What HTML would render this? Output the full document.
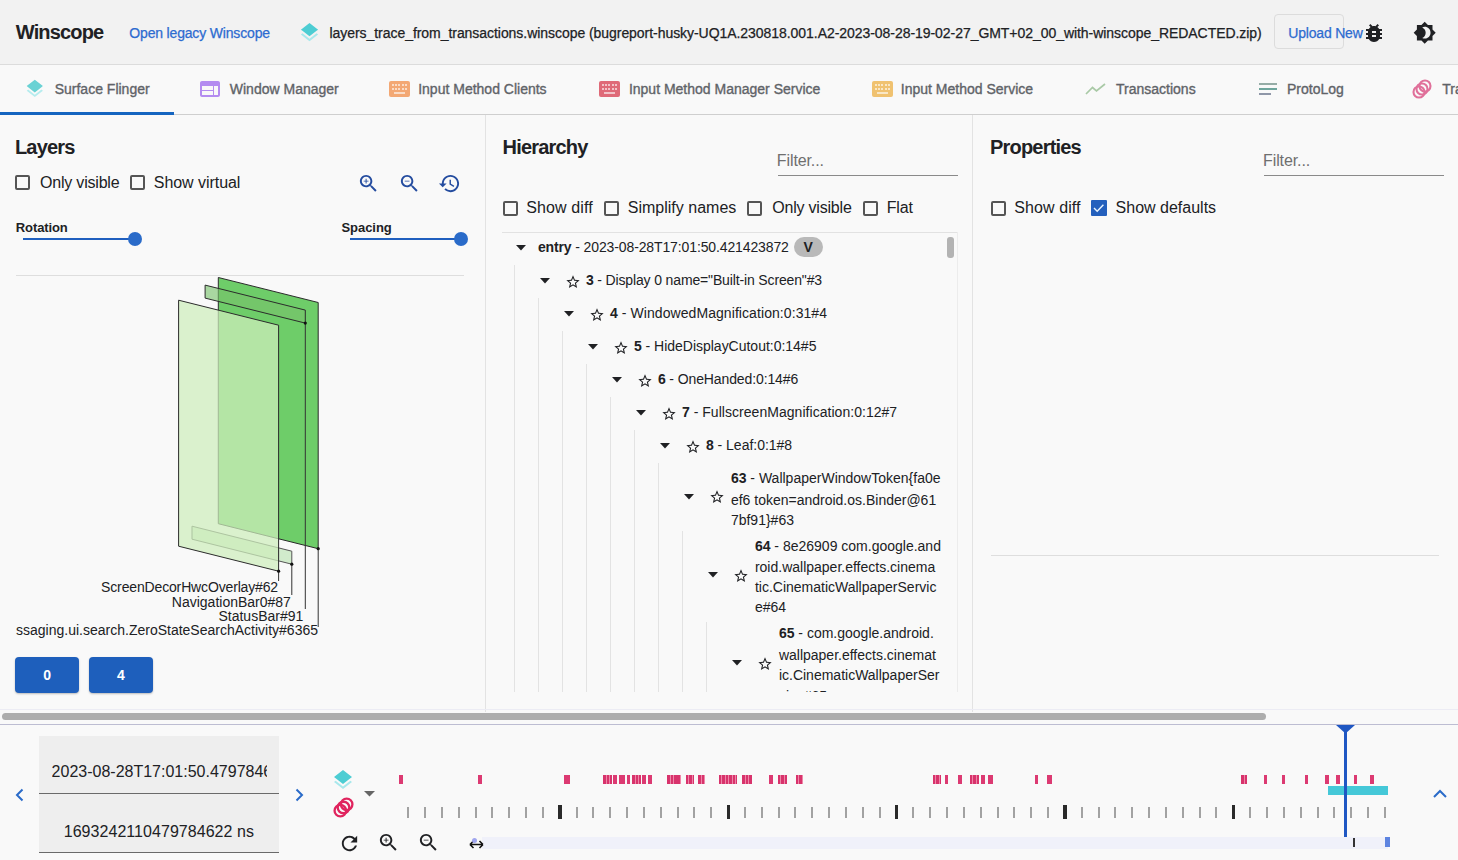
<!DOCTYPE html>
<html><head><meta charset="utf-8"><title>Winscope</title>
<style>
html,body{margin:0;padding:0;}
body{width:1458px;height:860px;overflow:hidden;position:relative;background:#f9f9f9;font-family:"Liberation Sans", sans-serif;}
.t{position:absolute;white-space:nowrap;}
.r{position:absolute;}
b{font-weight:700;}
</style></head><body>
<div class="r" style="left:0.0px;top:0.0px;width:1458.0px;height:64.0px;background:#f2f2f2;"></div>
<div class="r" style="left:0.0px;top:64.0px;width:1458.0px;height:1.0px;background:#dcdcdc;"></div>
<div class="t" style="left:15.8px;top:21.7px;font-size:20px;line-height:20px;font-weight:700;color:#202124;letter-spacing:-0.85px;">Winscope</div>
<div class="t" style="left:129.3px;top:25.5px;font-size:14px;line-height:14px;font-weight:400;color:#2d6bd0;letter-spacing:-0.17px;-webkit-text-stroke:0.25px #2d6bd0;">Open legacy Winscope</div>
<svg class="r" style="left:297.8px;top:20.9px" width="23" height="23" viewBox="0 0 24 24"><path d="M11.99 18.54l-7.37-5.73L3 14.07l9 7 9-7-1.63-1.27-7.38 5.74z" fill="#a8e8ec"/><path d="M12 16l7.36-5.73L21 9l-9-7-9 7 1.63 1.27L12 16z" fill="#4dcdd3"/></svg>
<div class="t" style="left:329.5px;top:25.5px;font-size:14px;line-height:14px;font-weight:400;color:#202124;letter-spacing:-0.05px;-webkit-text-stroke:0.25px #202124;">layers_trace_from_transactions.winscope (bugreport-husky-UQ1A.230818.001.A2-2023-08-28-19-02-27_GMT+02_00_with-winscope_REDACTED.zip)</div>
<div class="r" style="left:1274px;top:14px;width:68px;height:33px;border:1px solid #dcdcdc;border-radius:4px;"></div>
<div class="t" style="left:1288.3px;top:25.5px;font-size:14px;line-height:14px;font-weight:400;color:#2d6bd0;letter-spacing:-0.2px;-webkit-text-stroke:0.25px #2d6bd0;">Upload New</div>
<svg class="r" style="left:1362px;top:21px" width="24" height="24" viewBox="0 0 24 24"><path fill="#202124" d="M20 8h-2.81c-.45-.78-1.07-1.45-1.82-1.96L17 4.41 15.59 3l-2.17 2.17C12.96 5.06 12.49 5 12 5s-.96.06-1.41.17L8.41 3 7 4.41l1.62 1.63C7.88 6.55 7.26 7.22 6.81 8H4v2h2.09c-.05.33-.09.66-.09 1v1H4v2h2v1c0 .34.04.67.09 1H4v2h2.81c1.04 1.79 2.97 3 5.19 3s4.15-1.21 5.19-3H20v-2h-2.09c.05-.33.09-.66.09-1v-1h2v-2h-2v-1c0-.34-.04-.67-.09-1H20V8zm-6 8h-4v-2h4v2zm0-4h-4v-2h4v2z"/></svg>
<svg class="r" style="left:1412.6px;top:21.2px" width="23.4" height="23.4" viewBox="0 0 24 24"><path fill="#202124" d="M20 8.69V4h-4.69L12 .69 8.69 4H4v4.69L.69 12 4 15.31V20h4.69L12 23.31 15.31 20H20v-4.69L23.31 12 20 8.69zM12 18c-.89 0-1.74-.2-2.5-.55C11.56 16.5 13 14.42 13 12s-1.44-4.5-3.5-5.45C10.26 6.2 11.11 6 12 6c3.31 0 6 2.69 6 6s-2.69 6-6 6z"/></svg>
<div class="r" style="left:0.0px;top:65.0px;width:1458.0px;height:49.0px;background:#f9f9f9;"></div>
<div class="r" style="left:0.0px;top:114.0px;width:1458.0px;height:1.0px;background:#cfcfcf;"></div>
<div class="r" style="left:0.0px;top:112.0px;width:174.0px;height:2.5px;background:#1565c0;"></div>
<div class="t" style="left:54.7px;top:82.3px;font-size:14px;line-height:14px;font-weight:400;color:#5f6368;letter-spacing:0px;-webkit-text-stroke:0.35px #5f6368;">Surface Flinger</div>
<div class="t" style="left:229.8px;top:82.3px;font-size:14px;line-height:14px;font-weight:400;color:#5f6368;letter-spacing:0px;-webkit-text-stroke:0.35px #5f6368;">Window Manager</div>
<div class="t" style="left:418.2px;top:82.3px;font-size:14px;line-height:14px;font-weight:400;color:#5f6368;letter-spacing:0px;-webkit-text-stroke:0.35px #5f6368;">Input Method Clients</div>
<div class="t" style="left:628.9px;top:82.3px;font-size:14px;line-height:14px;font-weight:400;color:#5f6368;letter-spacing:0px;-webkit-text-stroke:0.35px #5f6368;">Input Method Manager Service</div>
<div class="t" style="left:900.8px;top:82.3px;font-size:14px;line-height:14px;font-weight:400;color:#5f6368;letter-spacing:0px;-webkit-text-stroke:0.35px #5f6368;">Input Method Service</div>
<div class="t" style="left:1116.0px;top:82.3px;font-size:14px;line-height:14px;font-weight:400;color:#5f6368;letter-spacing:0px;-webkit-text-stroke:0.35px #5f6368;">Transactions</div>
<div class="t" style="left:1287.0px;top:82.3px;font-size:14px;line-height:14px;font-weight:400;color:#5f6368;letter-spacing:0px;-webkit-text-stroke:0.35px #5f6368;">ProtoLog</div>
<div class="t" style="left:1442.2px;top:82.3px;font-size:14px;line-height:14px;font-weight:400;color:#5f6368;letter-spacing:0px;-webkit-text-stroke:0.35px #5f6368;">Tra</div>
<svg class="r" style="left:23.5px;top:78.2px" width="21.6" height="21.6" viewBox="0 0 24 24"><path d="M11.99 18.54l-7.37-5.73L3 14.07l9 7 9-7-1.63-1.27-7.38 5.74z" fill="#b5ecee"/><path d="M12 16l7.36-5.73L21 9l-9-7-9 7 1.63 1.27L12 16z" fill="#6ad2d4"/></svg>
<svg class="r" style="left:198px;top:77.2px" width="24" height="24" viewBox="0 0 24 24"><path fill="#b48cf0" d="M20 4H4c-1.1 0-1.99.9-1.99 2L2 18c0 1.1.9 2 2 2h16c1.1 0 2-.9 2-2V6c0-1.1-.9-2-2-2zm-5 14H4v-4h11v4zm0-5H4V9h11v4zm5 5h-4V9h4v9z"/></svg>
<div class="r" style="left:388.5px;top:81px;width:21px;height:16px;background:#f3a874;border-radius:2px;"></div>
<div class="r" style="left:391.5px;top:84.0px;width:2px;height:2px;background:#fff;opacity:.6"></div>
<div class="r" style="left:394.9px;top:84.0px;width:2px;height:2px;background:#fff;opacity:.6"></div>
<div class="r" style="left:398.3px;top:84.0px;width:2px;height:2px;background:#fff;opacity:.6"></div>
<div class="r" style="left:401.7px;top:84.0px;width:2px;height:2px;background:#fff;opacity:.6"></div>
<div class="r" style="left:405.1px;top:84.0px;width:2px;height:2px;background:#fff;opacity:.6"></div>
<div class="r" style="left:391.5px;top:87.5px;width:2px;height:2px;background:#fff;opacity:.6"></div>
<div class="r" style="left:394.9px;top:87.5px;width:2px;height:2px;background:#fff;opacity:.6"></div>
<div class="r" style="left:398.3px;top:87.5px;width:2px;height:2px;background:#fff;opacity:.6"></div>
<div class="r" style="left:401.7px;top:87.5px;width:2px;height:2px;background:#fff;opacity:.6"></div>
<div class="r" style="left:405.1px;top:87.5px;width:2px;height:2px;background:#fff;opacity:.6"></div>
<div class="r" style="left:393.5px;top:92px;width:11px;height:1.6px;background:#fff;opacity:.6"></div>
<div class="r" style="left:598.5px;top:81px;width:21px;height:16px;background:#df6a78;border-radius:2px;"></div>
<div class="r" style="left:601.5px;top:84.0px;width:2px;height:2px;background:#fff;opacity:.6"></div>
<div class="r" style="left:604.9px;top:84.0px;width:2px;height:2px;background:#fff;opacity:.6"></div>
<div class="r" style="left:608.3px;top:84.0px;width:2px;height:2px;background:#fff;opacity:.6"></div>
<div class="r" style="left:611.7px;top:84.0px;width:2px;height:2px;background:#fff;opacity:.6"></div>
<div class="r" style="left:615.1px;top:84.0px;width:2px;height:2px;background:#fff;opacity:.6"></div>
<div class="r" style="left:601.5px;top:87.5px;width:2px;height:2px;background:#fff;opacity:.6"></div>
<div class="r" style="left:604.9px;top:87.5px;width:2px;height:2px;background:#fff;opacity:.6"></div>
<div class="r" style="left:608.3px;top:87.5px;width:2px;height:2px;background:#fff;opacity:.6"></div>
<div class="r" style="left:611.7px;top:87.5px;width:2px;height:2px;background:#fff;opacity:.6"></div>
<div class="r" style="left:615.1px;top:87.5px;width:2px;height:2px;background:#fff;opacity:.6"></div>
<div class="r" style="left:603.5px;top:92px;width:11px;height:1.6px;background:#fff;opacity:.6"></div>
<div class="r" style="left:871.5px;top:81px;width:21px;height:16px;background:#f0c270;border-radius:2px;"></div>
<div class="r" style="left:874.5px;top:84.0px;width:2px;height:2px;background:#fff;opacity:.6"></div>
<div class="r" style="left:877.9px;top:84.0px;width:2px;height:2px;background:#fff;opacity:.6"></div>
<div class="r" style="left:881.3px;top:84.0px;width:2px;height:2px;background:#fff;opacity:.6"></div>
<div class="r" style="left:884.7px;top:84.0px;width:2px;height:2px;background:#fff;opacity:.6"></div>
<div class="r" style="left:888.1px;top:84.0px;width:2px;height:2px;background:#fff;opacity:.6"></div>
<div class="r" style="left:874.5px;top:87.5px;width:2px;height:2px;background:#fff;opacity:.6"></div>
<div class="r" style="left:877.9px;top:87.5px;width:2px;height:2px;background:#fff;opacity:.6"></div>
<div class="r" style="left:881.3px;top:87.5px;width:2px;height:2px;background:#fff;opacity:.6"></div>
<div class="r" style="left:884.7px;top:87.5px;width:2px;height:2px;background:#fff;opacity:.6"></div>
<div class="r" style="left:888.1px;top:87.5px;width:2px;height:2px;background:#fff;opacity:.6"></div>
<div class="r" style="left:876.5px;top:92px;width:11px;height:1.6px;background:#fff;opacity:.6"></div>
<svg class="r" style="left:1080px;top:75px" width="30" height="28" viewBox="1080 75 30 28"><path fill="none" stroke="#a9c9a6" stroke-width="1.7" d="M1086 94L1092.5 87.5L1096.5 91L1105 84"/></svg>
<div class="r" style="left:1259.4px;top:83px;width:17.5px;height:2px;background:#95aca6"></div>
<div class="r" style="left:1259.4px;top:88px;width:17.5px;height:2px;background:#6fa59c"></div>
<div class="r" style="left:1259.4px;top:93px;width:11.5px;height:2px;background:#8f97a8"></div>
<svg class="r" style="left:1412px;top:79px" width="20" height="20" viewBox="0 0 20 20"><g fill="none" stroke="#e0709a" stroke-width="2.1"><circle cx="7" cy="13" r="5.5"/><circle cx="10" cy="10" r="5.5"/><circle cx="13" cy="7" r="5.5"/></g></svg>
<div class="r" style="left:485.0px;top:115.0px;width:1.0px;height:597.0px;background:#e3e3e3;"></div>
<div class="r" style="left:972.0px;top:115.0px;width:1.0px;height:597.0px;background:#e3e3e3;"></div>
<div class="t" style="left:14.9px;top:137.0px;font-size:20px;line-height:20px;font-weight:700;color:#202124;letter-spacing:-0.8px;">Layers</div>
<div class="r" style="left:15.3px;top:175.4px;width:11px;height:11px;border:2px solid #555;border-radius:2px;"></div>
<div class="t" style="left:40.0px;top:175.2px;font-size:16px;line-height:16px;font-weight:400;color:#202124;letter-spacing:-0.2px;">Only visible</div>
<div class="r" style="left:129.5px;top:175.4px;width:11px;height:11px;border:2px solid #555;border-radius:2px;"></div>
<div class="t" style="left:153.8px;top:175.2px;font-size:16px;line-height:16px;font-weight:400;color:#202124;letter-spacing:-0.05px;">Show virtual</div>
<svg class="r" style="left:357.4px;top:172.4px" width="23" height="23" viewBox="0 0 24 24"><path fill="#244c9f" d="M15.5 14h-.79l-.28-.27C15.41 12.59 16 11.11 16 9.5 16 5.91 13.09 3 9.5 3S3 5.91 3 9.5 5.91 16 9.5 16c1.61 0 3.09-.59 4.23-1.57l.27.28v.79l5 4.99L20.49 19l-4.99-5zm-6 0C7.01 14 5 11.99 5 9.5S7.01 5 9.5 5 14 7.01 14 9.5 11.99 14 9.5 14zm2.5-4h-2v2H9v-2H7V9h2V7h1v2h2v1z"/></svg>
<svg class="r" style="left:397.5px;top:172.4px" width="23" height="23" viewBox="0 0 24 24"><path fill="#244c9f" d="M15.5 14h-.79l-.28-.27C15.41 12.59 16 11.11 16 9.5 16 5.91 13.09 3 9.5 3S3 5.91 3 9.5 5.91 16 9.5 16c1.61 0 3.09-.59 4.23-1.57l.27.28v.79l5 4.99L20.49 19l-4.99-5zm-6 0C7.01 14 5 11.99 5 9.5S7.01 5 9.5 5 14 7.01 14 9.5 11.99 14 9.5 14zM7 9h5v1H7z"/></svg>
<svg class="r" style="left:438px;top:172.4px" width="23" height="23" viewBox="0 0 24 24"><path fill="#244c9f" d="M13 3c-4.97 0-9 4.03-9 9H1l3.89 3.89.07.14L9 12H6c0-3.87 3.13-7 7-7s7 3.13 7 7-3.13 7-7 7c-1.93 0-3.68-.79-4.94-2.06l-1.42 1.42C8.27 19.99 10.51 21 13 21c4.97 0 9-4.03 9-9s-4.03-9-9-9zm-1 5v5l4.28 2.54.72-1.21-3.5-2.08V8H12z"/></svg>
<div class="t" style="left:15.8px;top:220.5px;font-size:13px;line-height:13px;font-weight:700;color:#202124;letter-spacing:-0.1px;">Rotation</div>
<div class="t" style="left:341.5px;top:220.6px;font-size:13px;line-height:13px;font-weight:700;color:#202124;letter-spacing:-0.05px;">Spacing</div>
<div class="r" style="left:23.0px;top:237.8px;width:112.0px;height:2.0px;background:#1f5fbf;"></div>
<div class="r" style="left:349.5px;top:238.0px;width:111.0px;height:2.0px;background:#1f5fbf;"></div>
<div class="r" style="left:128.1px;top:231.8px;width:14px;height:14px;border-radius:50%;background:#2a6bc9"></div>
<div class="r" style="left:454.2px;top:232px;width:14px;height:14px;border-radius:50%;background:#2a6bc9"></div>
<div class="r" style="left:16.0px;top:275.0px;width:448.0px;height:1.0px;background:#dedede;"></div>
<svg class="r" style="left:0;top:0" width="485" height="710" viewBox="0 0 485 710"><polygon points="218.3,277.5 318.2,302.5 318.2,548.7 218.3,523.7" fill="rgba(98,201,92,0.92)" stroke="#2b2b2b" stroke-width="1"/><polygon points="205.1,285.1 305.3,310.1 305.3,323.1 205.1,298.1" fill="rgba(120,193,106,0.62)" stroke="#2b2b2b" stroke-width="1"/><polygon points="192,526.2 291.8,551.2 291.8,564.2 192,539.2" fill="rgba(170,222,160,0.5)" stroke="#555" stroke-width="1"/><polygon points="178.6,300.2 278.6,325.2 278.6,571.2 178.6,546.2" fill="rgba(206,237,188,0.73)" stroke="#2b2b2b" stroke-width="1"/><line x1="278.6" y1="571.2" x2="278.6" y2="581" stroke="#333" stroke-width="1"/><circle cx="278.6" cy="571.2" r="1.6" fill="#111"/><line x1="291.8" y1="564.2" x2="291.8" y2="595" stroke="#333" stroke-width="1"/><circle cx="291.8" cy="564.2" r="1.6" fill="#111"/><line x1="305.3" y1="323.1" x2="305.3" y2="609" stroke="#333" stroke-width="1"/><circle cx="305.3" cy="323.1" r="1.6" fill="#111"/><line x1="318.2" y1="548.7" x2="318.2" y2="627" stroke="#333" stroke-width="1"/><circle cx="318.2" cy="548.7" r="1.6" fill="#111"/></svg>
<div class="t" style="right:1180.0px;top:580.1px;font-size:14px;line-height:14px;font-weight:400;color:#202124;letter-spacing:-0.15px;">ScreenDecorHwcOverlay#62</div>
<div class="t" style="right:1167.1px;top:594.8px;font-size:14px;line-height:14px;font-weight:400;color:#202124;letter-spacing:0px;">NavigationBar0#87</div>
<div class="t" style="right:1154.7px;top:608.8px;font-size:14px;line-height:14px;font-weight:400;color:#202124;letter-spacing:0px;">StatusBar#91</div>
<div class="t" style="right:1140.0px;top:623.1px;font-size:14px;line-height:14px;font-weight:400;color:#202124;letter-spacing:0px;">ssaging.ui.search.ZeroStateSearchActivity#6365</div>
<div class="r" style="left:15.4px;top:657.3px;width:63.6px;height:35.4px;background:#1e5fbc;border-radius:4px;box-shadow:0 1px 2px rgba(0,0,0,.25);"></div>
<div class="t" style="left:43.2px;top:667.6px;font-size:14px;line-height:14px;font-weight:700;color:#ffffff;letter-spacing:0px;">0</div>
<div class="r" style="left:89.2px;top:657.3px;width:63.6px;height:35.4px;background:#1e5fbc;border-radius:4px;box-shadow:0 1px 2px rgba(0,0,0,.25);"></div>
<div class="t" style="left:117.0px;top:667.6px;font-size:14px;line-height:14px;font-weight:700;color:#ffffff;letter-spacing:0px;">4</div>
<div class="t" style="left:502.5px;top:136.9px;font-size:20px;line-height:20px;font-weight:700;color:#202124;letter-spacing:-0.8px;">Hierarchy</div>
<div class="t" style="left:776.8px;top:152.7px;font-size:16px;line-height:16px;font-weight:400;color:#6f6f6f;letter-spacing:-0.1px;">Filter...</div>
<div class="r" style="left:777.6px;top:174.5px;width:180.0px;height:1.0px;background:#8a8a8a;"></div>
<div class="r" style="left:502.5px;top:200.5px;width:11px;height:11px;border:2px solid #555;border-radius:2px;"></div>
<div class="t" style="left:526.3px;top:199.5px;font-size:16px;line-height:16px;font-weight:400;color:#202124;letter-spacing:0.1px;">Show diff</div>
<div class="r" style="left:604.3px;top:200.5px;width:11px;height:11px;border:2px solid #555;border-radius:2px;"></div>
<div class="t" style="left:627.8px;top:199.5px;font-size:16px;line-height:16px;font-weight:400;color:#202124;letter-spacing:0px;">Simplify names</div>
<div class="r" style="left:747.1px;top:200.5px;width:11px;height:11px;border:2px solid #555;border-radius:2px;"></div>
<div class="t" style="left:772.2px;top:199.5px;font-size:16px;line-height:16px;font-weight:400;color:#202124;letter-spacing:-0.2px;">Only visible</div>
<div class="r" style="left:862.5px;top:200.5px;width:11px;height:11px;border:2px solid #555;border-radius:2px;"></div>
<div class="t" style="left:886.7px;top:199.5px;font-size:16px;line-height:16px;font-weight:400;color:#202124;letter-spacing:-0.1px;">Flat</div>
<div class="r" style="left:502.0px;top:232.0px;width:455.0px;height:1.0px;background:#e2e2e2;"></div>
<div class="r" style="left:514.1px;top:265.0px;width:1.0px;height:427.0px;background:#e3e3e3;"></div>
<div class="r" style="left:538.1px;top:298.0px;width:1.0px;height:394.0px;background:#e3e3e3;"></div>
<div class="r" style="left:562.1px;top:331.0px;width:1.0px;height:361.0px;background:#e3e3e3;"></div>
<div class="r" style="left:586.1px;top:364.0px;width:1.0px;height:328.0px;background:#e3e3e3;"></div>
<div class="r" style="left:610.1px;top:397.0px;width:1.0px;height:295.0px;background:#e3e3e3;"></div>
<div class="r" style="left:634.1px;top:430.0px;width:1.0px;height:262.0px;background:#e3e3e3;"></div>
<div class="r" style="left:658.1px;top:463.0px;width:1.0px;height:229.0px;background:#e3e3e3;"></div>
<div class="r" style="left:682.1px;top:531.0px;width:1.0px;height:161.0px;background:#e3e3e3;"></div>
<div class="r" style="left:706.1px;top:622.0px;width:1.0px;height:70.0px;background:#e3e3e3;"></div>
<div class="r" style="left:957.0px;top:232.0px;width:1.0px;height:460.0px;background:#ececec;"></div>
<div class="r" style="left:947px;top:236.6px;width:6.5px;height:21px;background:#b3b3b3;border-radius:3px"></div>
<svg class="r" style="left:515.5px;top:245.2px" width="10" height="6" viewBox="0 0 10 6"><path d="M0 0h10L5 5.5z" fill="#202124"/></svg>
<div class="t" style="left:537.9px;top:240.3px;font-size:14px;line-height:14px;color:#202124;letter-spacing:-0.12px"><b>entry</b> - 2023-08-28T17:01:50.421423872</div>
<svg class="r" style="left:539.5px;top:278.2px" width="10" height="6" viewBox="0 0 10 6"><path d="M0 0h10L5 5.5z" fill="#202124"/></svg>
<svg class="r" style="left:565.0px;top:273.7px" width="16" height="16" viewBox="0 0 24 24"><path fill="#202124" d="M22 9.24l-7.19-.62L12 2 9.19 8.63 2 9.24l5.46 4.73L5.82 21 12 17.27 18.18 21l-1.63-7.03L22 9.24zM12 15.4l-3.76 2.27 1-4.28-3.32-2.88 4.38-.38L12 6.1l1.71 4.04 4.38.38-3.32 2.88 1 4.28L12 15.4z"/></svg>
<div class="t" style="left:585.9px;top:273.3px;font-size:14px;line-height:14px;color:#202124;letter-spacing:-0.14216216216216093px"><b>3</b> - Display 0 name="Built-in Screen"#3</div>
<svg class="r" style="left:563.5px;top:311.2px" width="10" height="6" viewBox="0 0 10 6"><path d="M0 0h10L5 5.5z" fill="#202124"/></svg>
<svg class="r" style="left:589.0px;top:306.7px" width="16" height="16" viewBox="0 0 24 24"><path fill="#202124" d="M22 9.24l-7.19-.62L12 2 9.19 8.63 2 9.24l5.46 4.73L5.82 21 12 17.27 18.18 21l-1.63-7.03L22 9.24zM12 15.4l-3.76 2.27 1-4.28-3.32-2.88 4.38-.38L12 6.1l1.71 4.04 4.38.38-3.32 2.88 1 4.28L12 15.4z"/></svg>
<div class="t" style="left:609.9px;top:306.3px;font-size:14px;line-height:14px;color:#202124;letter-spacing:0.07483870967741789px"><b>4</b> - WindowedMagnification:0:31#4</div>
<svg class="r" style="left:587.5px;top:344.2px" width="10" height="6" viewBox="0 0 10 6"><path d="M0 0h10L5 5.5z" fill="#202124"/></svg>
<svg class="r" style="left:613.0px;top:339.7px" width="16" height="16" viewBox="0 0 24 24"><path fill="#202124" d="M22 9.24l-7.19-.62L12 2 9.19 8.63 2 9.24l5.46 4.73L5.82 21 12 17.27 18.18 21l-1.63-7.03L22 9.24zM12 15.4l-3.76 2.27 1-4.28-3.32-2.88 4.38-.38L12 6.1l1.71 4.04 4.38.38-3.32 2.88 1 4.28L12 15.4z"/></svg>
<div class="t" style="left:633.9px;top:339.3px;font-size:14px;line-height:14px;color:#202124;letter-spacing:-0.013333333333335015px"><b>5</b> - HideDisplayCutout:0:14#5</div>
<svg class="r" style="left:611.5px;top:377.2px" width="10" height="6" viewBox="0 0 10 6"><path d="M0 0h10L5 5.5z" fill="#202124"/></svg>
<svg class="r" style="left:637.0px;top:372.7px" width="16" height="16" viewBox="0 0 24 24"><path fill="#202124" d="M22 9.24l-7.19-.62L12 2 9.19 8.63 2 9.24l5.46 4.73L5.82 21 12 17.27 18.18 21l-1.63-7.03L22 9.24zM12 15.4l-3.76 2.27 1-4.28-3.32-2.88 4.38-.38L12 6.1l1.71 4.04 4.38.38-3.32 2.88 1 4.28L12 15.4z"/></svg>
<div class="t" style="left:657.9px;top:372.3px;font-size:14px;line-height:14px;color:#202124;letter-spacing:-0.11157894736842225px"><b>6</b> - OneHanded:0:14#6</div>
<svg class="r" style="left:635.5px;top:410.2px" width="10" height="6" viewBox="0 0 10 6"><path d="M0 0h10L5 5.5z" fill="#202124"/></svg>
<svg class="r" style="left:661.0px;top:405.7px" width="16" height="16" viewBox="0 0 24 24"><path fill="#202124" d="M22 9.24l-7.19-.62L12 2 9.19 8.63 2 9.24l5.46 4.73L5.82 21 12 17.27 18.18 21l-1.63-7.03L22 9.24zM12 15.4l-3.76 2.27 1-4.28-3.32-2.88 4.38-.38L12 6.1l1.71 4.04 4.38.38-3.32 2.88 1 4.28L12 15.4z"/></svg>
<div class="t" style="left:681.9px;top:405.3px;font-size:14px;line-height:14px;color:#202124;letter-spacing:0.0381818181818175px"><b>7</b> - FullscreenMagnification:0:12#7</div>
<svg class="r" style="left:659.5px;top:443.2px" width="10" height="6" viewBox="0 0 10 6"><path d="M0 0h10L5 5.5z" fill="#202124"/></svg>
<svg class="r" style="left:685.0px;top:438.7px" width="16" height="16" viewBox="0 0 24 24"><path fill="#202124" d="M22 9.24l-7.19-.62L12 2 9.19 8.63 2 9.24l5.46 4.73L5.82 21 12 17.27 18.18 21l-1.63-7.03L22 9.24zM12 15.4l-3.76 2.27 1-4.28-3.32-2.88 4.38-.38L12 6.1l1.71 4.04 4.38.38-3.32 2.88 1 4.28L12 15.4z"/></svg>
<div class="t" style="left:705.9px;top:438.3px;font-size:14px;line-height:14px;color:#202124;letter-spacing:-0.010769230769232516px"><b>8</b> - Leaf:0:1#8</div>
<div class="r" style="left:794px;top:237.2px;width:28.5px;height:19.5px;background:#b9b9b9;border-radius:10px"></div>
<div class="t" style="left:803.6px;top:240.3px;font-size:14px;line-height:14px;font-weight:700;color:#202124;letter-spacing:0px;">V</div>
<div class="r" style="left:486px;top:233px;width:456px;height:459px;overflow:hidden">
<svg class="r" style="left:197.5px;top:260.5px" width="10" height="6" viewBox="0 0 10 6"><path d="M0 0h10L5 5.5z" fill="#202124"/></svg>
<svg class="r" style="left:223.0px;top:256.3px" width="16" height="16" viewBox="0 0 24 24"><path fill="#202124" d="M22 9.24l-7.19-.62L12 2 9.19 8.63 2 9.24l5.46 4.73L5.82 21 12 17.27 18.18 21l-1.63-7.03L22 9.24zM12 15.4l-3.76 2.27 1-4.28-3.32-2.88 4.38-.38L12 6.1l1.71 4.04 4.38.38-3.32 2.88 1 4.28L12 15.4z"/></svg>
<div class="t" style="left:244.89999999999998px;top:237.9px;font-size:14px;line-height:14px;color:#202124"><b>63</b> - WallpaperWindowToken{fa0e</div>
<div class="t" style="left:244.89999999999998px;top:259.8px;font-size:14px;line-height:14px;color:#202124">ef6 token=android.os.Binder@61</div>
<div class="t" style="left:244.89999999999998px;top:279.8px;font-size:14px;line-height:14px;color:#202124">7bf91}#63</div>
<svg class="r" style="left:221.5px;top:339px" width="10" height="6" viewBox="0 0 10 6"><path d="M0 0h10L5 5.5z" fill="#202124"/></svg>
<svg class="r" style="left:247.0px;top:334.8px" width="16" height="16" viewBox="0 0 24 24"><path fill="#202124" d="M22 9.24l-7.19-.62L12 2 9.19 8.63 2 9.24l5.46 4.73L5.82 21 12 17.27 18.18 21l-1.63-7.03L22 9.24zM12 15.4l-3.76 2.27 1-4.28-3.32-2.88 4.38-.38L12 6.1l1.71 4.04 4.38.38-3.32 2.88 1 4.28L12 15.4z"/></svg>
<div class="t" style="left:268.9px;top:305.9px;font-size:14px;line-height:14px;color:#202124"><b>64</b> - 8e26909 com.google.and</div>
<div class="t" style="left:268.9px;top:327.3px;font-size:14px;line-height:14px;color:#202124">roid.wallpaper.effects.cinema</div>
<div class="t" style="left:268.9px;top:347.4px;font-size:14px;line-height:14px;color:#202124">tic.CinematicWallpaperServic</div>
<div class="t" style="left:268.9px;top:367.3px;font-size:14px;line-height:14px;color:#202124">e#64</div>
<svg class="r" style="left:245.5px;top:427px" width="10" height="6" viewBox="0 0 10 6"><path d="M0 0h10L5 5.5z" fill="#202124"/></svg>
<svg class="r" style="left:271.0px;top:422.8px" width="16" height="16" viewBox="0 0 24 24"><path fill="#202124" d="M22 9.24l-7.19-.62L12 2 9.19 8.63 2 9.24l5.46 4.73L5.82 21 12 17.27 18.18 21l-1.63-7.03L22 9.24zM12 15.4l-3.76 2.27 1-4.28-3.32-2.88 4.38-.38L12 6.1l1.71 4.04 4.38.38-3.32 2.88 1 4.28L12 15.4z"/></svg>
<div class="t" style="left:292.9px;top:393.4px;font-size:14px;line-height:14px;color:#202124"><b>65</b> - com.google.android.</div>
<div class="t" style="left:292.9px;top:414.6px;font-size:14px;line-height:14px;color:#202124">wallpaper.effects.cinemat</div>
<div class="t" style="left:292.9px;top:435.2px;font-size:14px;line-height:14px;color:#202124">ic.CinematicWallpaperSer</div>
<div class="t" style="left:292.9px;top:455.6px;font-size:14px;line-height:14px;color:#202124">vice#65</div>
</div>
<div class="t" style="left:990.0px;top:136.9px;font-size:20px;line-height:20px;font-weight:700;color:#202124;letter-spacing:-0.8px;">Properties</div>
<div class="t" style="left:1263.0px;top:152.7px;font-size:16px;line-height:16px;font-weight:400;color:#6f6f6f;letter-spacing:-0.1px;">Filter...</div>
<div class="r" style="left:1263.8px;top:174.5px;width:180.0px;height:1.0px;background:#8a8a8a;"></div>
<div class="r" style="left:990.7px;top:200.5px;width:11px;height:11px;border:2px solid #555;border-radius:2px;"></div>
<div class="t" style="left:1014.2px;top:199.5px;font-size:16px;line-height:16px;font-weight:400;color:#202124;letter-spacing:0.1px;">Show diff</div>
<div class="r" style="left:1091.2px;top:200.2px;width:15.8px;height:15.6px;background:#2460bd;border-radius:1px;"></div>
<svg class="r" style="left:1091.2px;top:200.2px" width="16" height="16" viewBox="0 0 16 16"><path d="M3 8l3.2 3.3 6.2-6.6" fill="none" stroke="#e8f4ff" stroke-width="1.4"/></svg>
<div class="t" style="left:1115.6px;top:199.5px;font-size:16px;line-height:16px;font-weight:400;color:#202124;letter-spacing:0px;">Show defaults</div>
<div class="r" style="left:990.7px;top:554.5px;width:448.0px;height:1.0px;background:#dedede;"></div>
<div class="r" style="left:0.0px;top:709.0px;width:1458.0px;height:1.0px;background:#ececf4;"></div>
<div class="r" style="left:2px;top:713.4px;width:1264.4px;height:7px;background:#adadad;border-radius:4px"></div>
<div class="r" style="left:0.0px;top:724.0px;width:1458.0px;height:1.0px;background:#bdbdd2;"></div>
<div class="r" style="left:38.5px;top:735.5px;width:240.3px;height:58.0px;background:#eeeeee;"></div>
<div class="r" style="left:38.5px;top:793.0px;width:240.3px;height:1.2px;background:#6a6a6a;"></div>
<div class="r" style="left:38.5px;top:794.2px;width:240.3px;height:58.0px;background:#eeeeee;"></div>
<div class="r" style="left:38.5px;top:852.0px;width:240.3px;height:1.2px;background:#6a6a6a;"></div>
<div class="r" style="left:51.6px;top:760px;width:215px;height:22px;overflow:hidden">
<div class="t" style="left:0;top:4.1px;font-size:16px;line-height:16px;color:#202124">2023-08-28T17:01:50.479784622</div>
</div>
<div class="t" style="left:63.7px;top:824.3px;font-size:16px;line-height:16px;font-weight:400;color:#202124;letter-spacing:0.05px;">1693242110479784622 ns</div>
<svg class="r" style="left:14px;top:788px" width="11" height="14" viewBox="0 0 11 14"><path d="M8.5 1.5L3 7l5.5 5.5" fill="none" stroke="#2a6bc9" stroke-width="2"/></svg>
<svg class="r" style="left:293.5px;top:788px" width="11" height="14" viewBox="0 0 11 14"><path d="M2.5 1.5L8 7l-5.5 5.5" fill="none" stroke="#2a6bc9" stroke-width="2"/></svg>
<svg class="r" style="left:1432px;top:788px" width="16" height="12" viewBox="0 0 16 12"><path d="M2 9l6-6 6 6" fill="none" stroke="#2a6bc9" stroke-width="2"/></svg>
<svg class="r" style="left:331.4px;top:767.9px" width="24" height="24" viewBox="0 0 24 24"><path d="M11.99 18.54l-7.37-5.73L3 14.07l9 7 9-7-1.63-1.27-7.38 5.74z" fill="#a8e8ec"/><path d="M12 16l7.36-5.73L21 9l-9-7-9 7 1.63 1.27L12 16z" fill="#4dcdd3"/></svg>
<svg class="r" style="left:363.5px;top:790.5px" width="11" height="6" viewBox="0 0 11 6"><path d="M0 0h11L5.5 5.5z" fill="#666"/></svg>
<svg class="r" style="left:332.5px;top:797px" width="21" height="21" viewBox="0 0 20 20"><g fill="none" stroke="#e0245e" stroke-width="2.2"><circle cx="7" cy="13" r="5.5"/><circle cx="10" cy="10" r="5.5"/><circle cx="13" cy="7" r="5.5"/></g></svg>
<div class="r" style="left:407.1px;top:807.4px;width:2.0px;height:11.0px;background:#a2a2a2;"></div>
<div class="r" style="left:423.9px;top:807.4px;width:2.0px;height:11.0px;background:#a2a2a2;"></div>
<div class="r" style="left:440.8px;top:807.4px;width:2.0px;height:11.0px;background:#a2a2a2;"></div>
<div class="r" style="left:457.6px;top:807.4px;width:2.0px;height:11.0px;background:#a2a2a2;"></div>
<div class="r" style="left:474.5px;top:807.4px;width:2.0px;height:11.0px;background:#a2a2a2;"></div>
<div class="r" style="left:491.3px;top:807.4px;width:2.0px;height:11.0px;background:#a2a2a2;"></div>
<div class="r" style="left:508.1px;top:807.4px;width:2.0px;height:11.0px;background:#a2a2a2;"></div>
<div class="r" style="left:525.0px;top:807.4px;width:2.0px;height:11.0px;background:#a2a2a2;"></div>
<div class="r" style="left:541.8px;top:807.4px;width:2.0px;height:11.0px;background:#a2a2a2;"></div>
<div class="r" style="left:558.1px;top:805.0px;width:3.6px;height:14.0px;background:#2a2a2a;"></div>
<div class="r" style="left:575.5px;top:807.4px;width:2.0px;height:11.0px;background:#a2a2a2;"></div>
<div class="r" style="left:592.3px;top:807.4px;width:2.0px;height:11.0px;background:#a2a2a2;"></div>
<div class="r" style="left:609.2px;top:807.4px;width:2.0px;height:11.0px;background:#a2a2a2;"></div>
<div class="r" style="left:626.0px;top:807.4px;width:2.0px;height:11.0px;background:#a2a2a2;"></div>
<div class="r" style="left:642.9px;top:807.4px;width:2.0px;height:11.0px;background:#a2a2a2;"></div>
<div class="r" style="left:659.7px;top:807.4px;width:2.0px;height:11.0px;background:#a2a2a2;"></div>
<div class="r" style="left:676.5px;top:807.4px;width:2.0px;height:11.0px;background:#a2a2a2;"></div>
<div class="r" style="left:693.4px;top:807.4px;width:2.0px;height:11.0px;background:#a2a2a2;"></div>
<div class="r" style="left:710.2px;top:807.4px;width:2.0px;height:11.0px;background:#a2a2a2;"></div>
<div class="r" style="left:726.5px;top:805.0px;width:3.6px;height:14.0px;background:#2a2a2a;"></div>
<div class="r" style="left:743.9px;top:807.4px;width:2.0px;height:11.0px;background:#a2a2a2;"></div>
<div class="r" style="left:760.7px;top:807.4px;width:2.0px;height:11.0px;background:#a2a2a2;"></div>
<div class="r" style="left:777.6px;top:807.4px;width:2.0px;height:11.0px;background:#a2a2a2;"></div>
<div class="r" style="left:794.4px;top:807.4px;width:2.0px;height:11.0px;background:#a2a2a2;"></div>
<div class="r" style="left:811.3px;top:807.4px;width:2.0px;height:11.0px;background:#a2a2a2;"></div>
<div class="r" style="left:828.1px;top:807.4px;width:2.0px;height:11.0px;background:#a2a2a2;"></div>
<div class="r" style="left:844.9px;top:807.4px;width:2.0px;height:11.0px;background:#a2a2a2;"></div>
<div class="r" style="left:861.8px;top:807.4px;width:2.0px;height:11.0px;background:#a2a2a2;"></div>
<div class="r" style="left:878.6px;top:807.4px;width:2.0px;height:11.0px;background:#a2a2a2;"></div>
<div class="r" style="left:894.9px;top:805.0px;width:3.6px;height:14.0px;background:#2a2a2a;"></div>
<div class="r" style="left:912.3px;top:807.4px;width:2.0px;height:11.0px;background:#a2a2a2;"></div>
<div class="r" style="left:929.1px;top:807.4px;width:2.0px;height:11.0px;background:#a2a2a2;"></div>
<div class="r" style="left:946.0px;top:807.4px;width:2.0px;height:11.0px;background:#a2a2a2;"></div>
<div class="r" style="left:962.8px;top:807.4px;width:2.0px;height:11.0px;background:#a2a2a2;"></div>
<div class="r" style="left:979.7px;top:807.4px;width:2.0px;height:11.0px;background:#a2a2a2;"></div>
<div class="r" style="left:996.5px;top:807.4px;width:2.0px;height:11.0px;background:#a2a2a2;"></div>
<div class="r" style="left:1013.3px;top:807.4px;width:2.0px;height:11.0px;background:#a2a2a2;"></div>
<div class="r" style="left:1030.2px;top:807.4px;width:2.0px;height:11.0px;background:#a2a2a2;"></div>
<div class="r" style="left:1047.0px;top:807.4px;width:2.0px;height:11.0px;background:#a2a2a2;"></div>
<div class="r" style="left:1063.3px;top:805.0px;width:3.6px;height:14.0px;background:#2a2a2a;"></div>
<div class="r" style="left:1080.7px;top:807.4px;width:2.0px;height:11.0px;background:#a2a2a2;"></div>
<div class="r" style="left:1097.5px;top:807.4px;width:2.0px;height:11.0px;background:#a2a2a2;"></div>
<div class="r" style="left:1114.4px;top:807.4px;width:2.0px;height:11.0px;background:#a2a2a2;"></div>
<div class="r" style="left:1131.2px;top:807.4px;width:2.0px;height:11.0px;background:#a2a2a2;"></div>
<div class="r" style="left:1148.1px;top:807.4px;width:2.0px;height:11.0px;background:#a2a2a2;"></div>
<div class="r" style="left:1164.9px;top:807.4px;width:2.0px;height:11.0px;background:#a2a2a2;"></div>
<div class="r" style="left:1181.7px;top:807.4px;width:2.0px;height:11.0px;background:#a2a2a2;"></div>
<div class="r" style="left:1198.6px;top:807.4px;width:2.0px;height:11.0px;background:#a2a2a2;"></div>
<div class="r" style="left:1215.4px;top:807.4px;width:2.0px;height:11.0px;background:#a2a2a2;"></div>
<div class="r" style="left:1231.7px;top:805.0px;width:3.6px;height:14.0px;background:#2a2a2a;"></div>
<div class="r" style="left:1249.1px;top:807.4px;width:2.0px;height:11.0px;background:#a2a2a2;"></div>
<div class="r" style="left:1265.9px;top:807.4px;width:2.0px;height:11.0px;background:#a2a2a2;"></div>
<div class="r" style="left:1282.8px;top:807.4px;width:2.0px;height:11.0px;background:#a2a2a2;"></div>
<div class="r" style="left:1299.6px;top:807.4px;width:2.0px;height:11.0px;background:#a2a2a2;"></div>
<div class="r" style="left:1316.5px;top:807.4px;width:2.0px;height:11.0px;background:#a2a2a2;"></div>
<div class="r" style="left:1333.3px;top:807.4px;width:2.0px;height:11.0px;background:#a2a2a2;"></div>
<div class="r" style="left:1350.1px;top:807.4px;width:2.0px;height:11.0px;background:#a2a2a2;"></div>
<div class="r" style="left:1367.0px;top:807.4px;width:2.0px;height:11.0px;background:#a2a2a2;"></div>
<div class="r" style="left:1383.8px;top:807.4px;width:2.0px;height:11.0px;background:#a2a2a2;"></div>
<div class="r" style="left:398.9px;top:775.3px;width:4.0px;height:8.6px;background:#dc3a72;"></div>
<div class="r" style="left:478.0px;top:775.3px;width:3.8px;height:8.6px;background:#dc3a72;"></div>
<div class="r" style="left:564.4px;top:775.3px;width:5.6px;height:8.6px;background:#dc3a72;"></div>
<div class="r" style="left:603.3px;top:775.3px;width:9.0px;height:8.6px;background:repeating-linear-gradient(90deg,#d8336c 0 2.5px,#ee86a8 2.5px 3.5px);"></div>
<div class="r" style="left:613.4px;top:775.3px;width:3.5px;height:8.6px;background:#dc3a72;"></div>
<div class="r" style="left:619.4px;top:775.3px;width:5.3px;height:8.6px;background:#dc3a72;"></div>
<div class="r" style="left:627.0px;top:775.3px;width:2.5px;height:8.6px;background:#dc3a72;"></div>
<div class="r" style="left:632.0px;top:775.3px;width:9.3px;height:8.6px;background:repeating-linear-gradient(90deg,#d8336c 0 2.5px,#ee86a8 2.5px 3.5px);"></div>
<div class="r" style="left:642.0px;top:775.3px;width:3.5px;height:8.6px;background:#dc3a72;"></div>
<div class="r" style="left:648.0px;top:775.3px;width:3.9px;height:8.6px;background:#dc3a72;"></div>
<div class="r" style="left:667.0px;top:775.3px;width:14.3px;height:8.6px;background:repeating-linear-gradient(90deg,#d8336c 0 2.5px,#ee86a8 2.5px 3.5px);"></div>
<div class="r" style="left:685.5px;top:775.3px;width:8.6px;height:8.6px;background:repeating-linear-gradient(90deg,#d8336c 0 2.5px,#ee86a8 2.5px 3.5px);"></div>
<div class="r" style="left:698.3px;top:775.3px;width:6.7px;height:8.6px;background:repeating-linear-gradient(90deg,#d8336c 0 2.5px,#ee86a8 2.5px 3.5px);"></div>
<div class="r" style="left:718.6px;top:775.3px;width:18.5px;height:8.6px;background:repeating-linear-gradient(90deg,#d8336c 0 2.5px,#ee86a8 2.5px 3.5px);"></div>
<div class="r" style="left:741.6px;top:775.3px;width:10.6px;height:8.6px;background:repeating-linear-gradient(90deg,#d8336c 0 2.5px,#ee86a8 2.5px 3.5px);"></div>
<div class="r" style="left:768.8px;top:775.3px;width:4.5px;height:8.6px;background:#dc3a72;"></div>
<div class="r" style="left:777.9px;top:775.3px;width:9.0px;height:8.6px;background:repeating-linear-gradient(90deg,#d8336c 0 2.5px,#ee86a8 2.5px 3.5px);"></div>
<div class="r" style="left:796.0px;top:775.3px;width:6.5px;height:8.6px;background:repeating-linear-gradient(90deg,#d8336c 0 2.5px,#ee86a8 2.5px 3.5px);"></div>
<div class="r" style="left:932.5px;top:775.3px;width:8.8px;height:8.6px;background:repeating-linear-gradient(90deg,#d8336c 0 2.5px,#ee86a8 2.5px 3.5px);"></div>
<div class="r" style="left:945.0px;top:775.3px;width:2.8px;height:8.6px;background:#dc3a72;"></div>
<div class="r" style="left:958.0px;top:775.3px;width:4.0px;height:8.6px;background:#dc3a72;"></div>
<div class="r" style="left:970.0px;top:775.3px;width:8.5px;height:8.6px;background:repeating-linear-gradient(90deg,#d8336c 0 2.5px,#ee86a8 2.5px 3.5px);"></div>
<div class="r" style="left:981.0px;top:775.3px;width:4.0px;height:8.6px;background:#dc3a72;"></div>
<div class="r" style="left:988.0px;top:775.3px;width:4.6px;height:8.6px;background:#dc3a72;"></div>
<div class="r" style="left:1034.7px;top:775.3px;width:3.8px;height:8.6px;background:#dc3a72;"></div>
<div class="r" style="left:1046.6px;top:775.3px;width:5.7px;height:8.6px;background:#dc3a72;"></div>
<div class="r" style="left:1241.4px;top:775.3px;width:6.1px;height:8.6px;background:repeating-linear-gradient(90deg,#d8336c 0 2.5px,#ee86a8 2.5px 3.5px);"></div>
<div class="r" style="left:1263.6px;top:775.3px;width:3.0px;height:8.6px;background:#dc3a72;"></div>
<div class="r" style="left:1281.5px;top:775.3px;width:3.1px;height:8.6px;background:#dc3a72;"></div>
<div class="r" style="left:1304.5px;top:775.3px;width:3.8px;height:8.6px;background:#dc3a72;"></div>
<div class="r" style="left:1324.8px;top:775.3px;width:3.8px;height:8.6px;background:#dc3a72;"></div>
<div class="r" style="left:1336.3px;top:775.3px;width:3.7px;height:8.6px;background:#dc3a72;"></div>
<div class="r" style="left:1353.5px;top:775.3px;width:3.8px;height:8.6px;background:#dc3a72;"></div>
<div class="r" style="left:1370.0px;top:775.3px;width:3.8px;height:8.6px;background:#dc3a72;"></div>
<div class="r" style="left:1327.9px;top:785.8px;width:60.1px;height:9.6px;background:#45c8d8;"></div>
<div class="r" style="left:482.0px;top:837.0px;width:906.0px;height:12.0px;background:#f0f1fa;"></div>
<div class="r" style="left:1352.5px;top:838.0px;width:2.0px;height:9.0px;background:#333;"></div>
<div class="r" style="left:1384.8px;top:837.0px;width:5.4px;height:10.0px;background:#5d84e0;"></div>
<svg class="r" style="left:337.5px;top:831.5px" width="23" height="23" viewBox="0 0 24 24"><path fill="#202124" d="M17.65 6.35C16.2 4.9 14.21 4 12 4c-4.42 0-7.99 3.58-7.99 8s3.57 8 7.99 8c3.73 0 6.84-2.55 7.73-6h-2.08c-.82 2.33-3.04 4-5.65 4-3.31 0-6-2.69-6-6s2.69-6 6-6c1.66 0 3.14.69 4.22 1.78L13 11h7V4l-2.35 2.35z"/></svg>
<svg class="r" style="left:377.4px;top:831.4px" width="23" height="23" viewBox="0 0 24 24"><path fill="#202124" d="M15.5 14h-.79l-.28-.27C15.41 12.59 16 11.11 16 9.5 16 5.91 13.09 3 9.5 3S3 5.91 3 9.5 5.91 16 9.5 16c1.61 0 3.09-.59 4.23-1.57l.27.28v.79l5 4.99L20.49 19l-4.99-5zm-6 0C7.01 14 5 11.99 5 9.5S7.01 5 9.5 5 14 7.01 14 9.5 11.99 14 9.5 14zm2.5-4h-2v2H9v-2H7V9h2V7h1v2h2v1z"/></svg>
<svg class="r" style="left:417.1px;top:831.4px" width="23" height="23" viewBox="0 0 24 24"><path fill="#202124" d="M15.5 14h-.79l-.28-.27C15.41 12.59 16 11.11 16 9.5 16 5.91 13.09 3 9.5 3S3 5.91 3 9.5 5.91 16 9.5 16c1.61 0 3.09-.59 4.23-1.57l.27.28v.79l5 4.99L20.49 19l-4.99-5zm-6 0C7.01 14 5 11.99 5 9.5S7.01 5 9.5 5 14 7.01 14 9.5 11.99 14 9.5 14zM7 9h5v1H7z"/></svg>
<svg class="r" style="left:468.5px;top:840px" width="15" height="9" viewBox="0 0 15 9"><path d="M1 4.5h13M1 4.5l3.5-3.5M1 4.5l3.5 3.5M14 4.5l-3.5-3.5M14 4.5l-3.5 3.5" fill="none" stroke="#111" stroke-width="1.6"/></svg>
<div class="r" style="left:472px;top:837.5px;width:5px;height:5px;border-radius:50%;background:#a0a6ee"></div>
<svg class="r" style="left:1336px;top:725px" width="20" height="9" viewBox="0 0 20 9"><path d="M0 0h19L9.5 8.5z" fill="#1f57c3"/></svg>
<div class="r" style="left:1343.7px;top:731.0px;width:3.2px;height:106.0px;background:#1f57c3;"></div>
</body></html>
